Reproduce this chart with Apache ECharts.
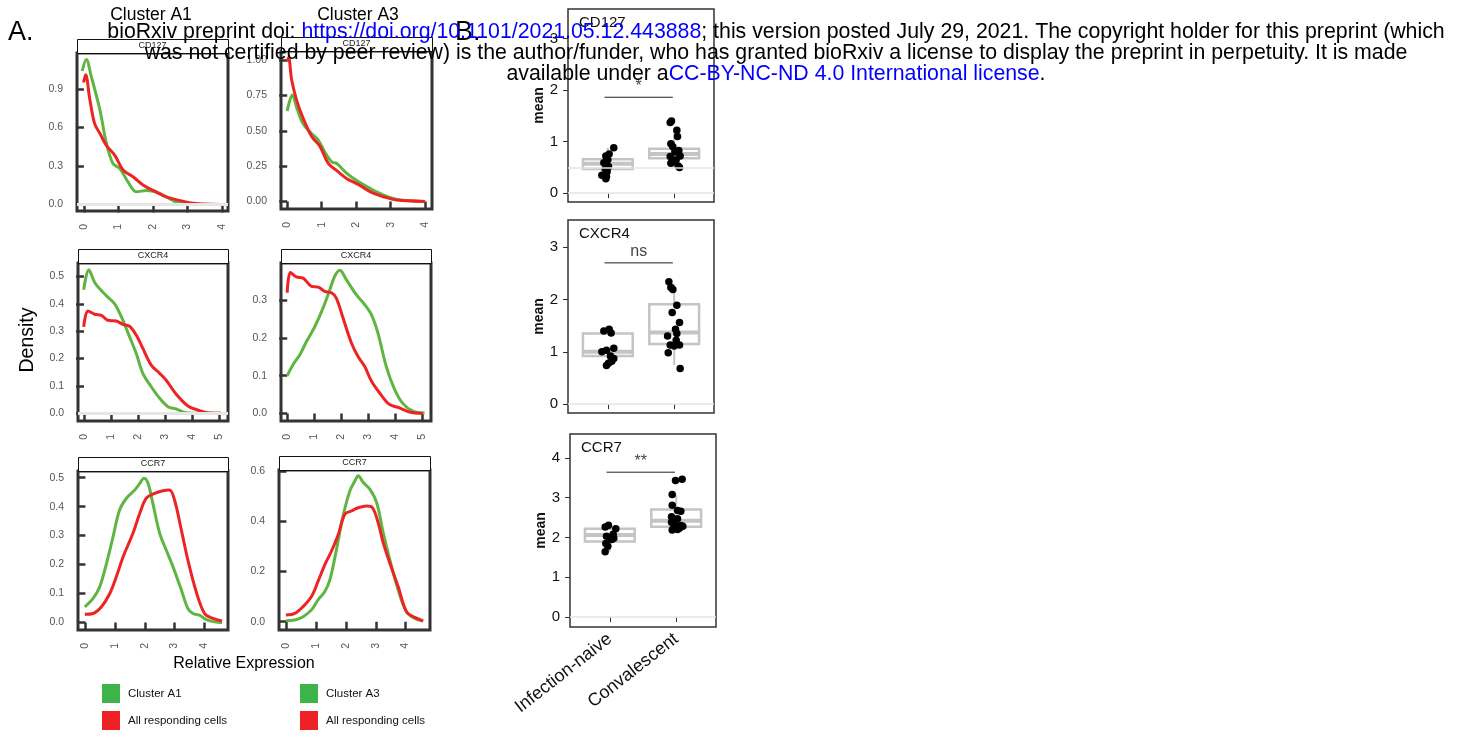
<!DOCTYPE html>
<html>
<head>
<meta charset="utf-8">
<script src="https://cdn.jsdelivr.net/npm/echarts@6/dist/echarts.min.js"></script>
<style>
  html, body { margin: 0; padding: 0; background: #fff; }
  #chart { width: 1470px; height: 738px; }
</style>
</head>
<body>
<div id="chart"></div>
<script>
// ---- data ----
const genes = ['CD127', 'CXCR4', 'CCR7'];
const clusters = ['Cluster A1', 'Cluster A3'];
const legendAll = 'All responding cells';
const groups = ['Infection-naive', 'Convalescent'];

// density curves [expression, density]
const a1Cd127Cluster = [[-0.05,1.04],[0.07,1.13],[0.21,1.0],[0.46,0.74],[0.65,0.48],[0.84,0.32],[1.04,0.28],[1.28,0.175],[1.52,0.1],[1.82,0.11],[2.1,0.097],[2.4,0.058],[2.69,0.018],[2.98,0.005],[3.95,0]];
const a1Cd127All = [[-0.01,0.95],[0.05,1.01],[0.17,0.82],[0.31,0.63],[0.46,0.555],[0.65,0.46],[0.89,0.385],[1.14,0.267],[1.43,0.215],[1.72,0.15],[2.1,0.097],[2.4,0.058],[2.79,0.031],[3.17,0.01],[3.95,0]];
const a3Cd127Cluster = [[0,0.64],[0.15,0.754],[0.27,0.67],[0.46,0.55],[0.71,0.48],[0.9,0.435],[1.09,0.35],[1.29,0.28],[1.43,0.27],[1.72,0.2],[2.06,0.14],[2.4,0.092],[2.79,0.045],[3.18,0.014],[4,0]];
const a3Cd127All = [[0,0.99],[0.04,1.02],[0.13,0.86],[0.27,0.72],[0.46,0.59],[0.71,0.46],[0.95,0.39],[1.19,0.27],[1.43,0.22],[1.72,0.163],[2.06,0.12],[2.4,0.069],[2.79,0.033],[3.18,0.009],[4,0]];
const a1Cxcr4Cluster = [[-0.01,0.451],[0.18,0.524],[0.39,0.479],[0.58,0.455],[0.82,0.43],[1.13,0.4],[1.38,0.352],[1.68,0.28],[1.93,0.218],[2.17,0.146],[2.48,0.097],[2.79,0.055],[3.1,0.024],[3.4,0.016],[3.77,0.002],[4.26,0],[5.06,0]];
const a1Cxcr4All = [[-0.01,0.316],[0.15,0.374],[0.39,0.362],[0.64,0.358],[0.88,0.34],[1.19,0.337],[1.44,0.325],[1.68,0.318],[1.93,0.285],[2.17,0.237],[2.48,0.176],[2.79,0.146],[3.03,0.121],[3.4,0.07],[3.83,0.027],[4.26,0.01],[4.63,0.001],[5.06,0]];
const a3Cxcr4Cluster = [[0,0.1],[0.22,0.13],[0.47,0.156],[0.71,0.19],[1.02,0.23],[1.33,0.28],[1.58,0.328],[1.76,0.364],[1.95,0.38],[2.19,0.355],[2.56,0.315],[2.87,0.289],[3.12,0.262],[3.36,0.214],[3.67,0.125],[3.98,0.064],[4.29,0.026],[4.66,0.006],[5.09,0.001]];
const a3Cxcr4All = [[0,0.32],[0.12,0.374],[0.34,0.362],[0.59,0.359],[0.9,0.337],[1.15,0.335],[1.39,0.324],[1.64,0.32],[1.82,0.306],[2.07,0.253],[2.38,0.187],[2.62,0.152],[2.87,0.125],[3.12,0.086],[3.42,0.055],[3.79,0.024],[4.16,0.015],[4.53,0.004],[5.02,0]];
const a1Ccr7Cluster = [[-0.02,0.054],[0.26,0.083],[0.48,0.123],[0.71,0.204],[0.93,0.296],[1.15,0.388],[1.38,0.429],[1.66,0.457],[1.83,0.48],[1.97,0.498],[2.11,0.48],[2.27,0.411],[2.5,0.308],[2.72,0.25],[2.95,0.192],[3.23,0.112],[3.45,0.048],[3.62,0.031],[3.84,0.025],[4.07,0.01],[4.35,0.002],[4.6,0]];
const a1Ccr7All = [[-0.02,0.028],[0.26,0.031],[0.54,0.054],[0.82,0.1],[1.04,0.158],[1.27,0.227],[1.6,0.308],[1.83,0.377],[2.05,0.429],[2.33,0.446],[2.61,0.455],[2.83,0.457],[3.0,0.423],[3.23,0.319],[3.45,0.215],[3.73,0.106],[4.01,0.031],[4.29,0.014],[4.6,0.005]];
const a3Ccr7Cluster = [[-0.02,0.004],[0.28,0.007],[0.56,0.02],[0.84,0.047],[1.06,0.087],[1.29,0.12],[1.46,0.167],[1.68,0.287],[1.9,0.42],[2.13,0.52],[2.3,0.56],[2.41,0.58],[2.58,0.553],[2.8,0.527],[3.03,0.473],[3.25,0.353],[3.47,0.247],[3.75,0.127],[4.03,0.04],[4.31,0.013],[4.59,0.003]];
const a3Ccr7All = [[-0.02,0.027],[0.28,0.033],[0.56,0.06],[0.84,0.1],[1.06,0.16],[1.29,0.227],[1.51,0.28],[1.74,0.347],[1.96,0.427],[2.18,0.44],[2.41,0.453],[2.69,0.46],[2.89,0.453],[3.08,0.393],[3.25,0.313],[3.47,0.233],[3.75,0.14],[4.03,0.04],[4.31,0.017],[4.59,0.003]];

// density axes: ranges and ticks
const densityXRange = [[-0.2,4.17],[-0.18,4.2],[-0.22,5.31],[-0.23,5.33],[-0.25,4.8],[-0.25,4.82]];
const densityYRange = [[-0.05,1.18],[-0.054,1.066],[-0.028,0.549],[-0.02,0.399],[-0.026,0.523],[-0.033,0.603]];
const densityXTicks = [[0,1,2,3,4],[0,1,2,3,4],[0,1,2,3,4,5],[0,1,2,3,4,5],[0,1,2,3,4],[0,1,2,3,4]];
const densityYTicks = [[0,0.3,0.6,0.9],[0,0.25,0.5,0.75,1],[0,0.1,0.2,0.3,0.4,0.5],[0,0.1,0.2,0.3],[0,0.1,0.2,0.3,0.4,0.5],[0,0.2,0.4,0.6]];
const densityYDecimals = [1,2,1,1,1,1];

// panel B: per-donor means [jittered group position, mean]
const cd127Naive = [[1.09,0.88],[1.02,0.76],[0.97,0.72],[1.0,0.65],[0.94,0.59],[1.01,0.52],[0.96,0.47],[0.99,0.42],[0.91,0.35],[0.98,0.33],[0.97,0.28]];
const cd127Conv = [[1.96,1.40],[1.94,1.37],[2.04,1.22],[2.05,1.1],[1.95,0.96],[1.98,0.9],[2.07,0.83],[2.01,0.8],[2.09,0.72],[1.94,0.71],[2.03,0.65],[1.97,0.6],[2.06,0.53],[1.95,0.58],[2.08,0.5]];
const cxcr4Naive = [[0.94,1.40],[1.02,1.43],[1.05,1.36],[0.91,1.0],[0.98,1.03],[1.09,1.07],[1.04,0.92],[1.09,0.87],[1.01,0.78],[0.98,0.74],[1.06,0.82]];
const cxcr4Conv = [[1.92,2.34],[1.95,2.23],[1.98,2.19],[2.04,1.89],[1.97,1.75],[2.08,1.56],[2.02,1.43],[2.04,1.35],[1.9,1.3],[2.03,1.22],[1.94,1.13],[2.0,1.11],[2.08,1.13],[1.91,0.98],[2.09,0.68]];
const ccr7Naive = [[0.93,2.26],[0.98,2.31],[1.09,2.22],[1.05,2.08],[0.95,2.03],[1.03,1.95],[0.94,1.85],[0.97,1.78],[0.93,1.64],[1.06,1.98],[1.01,1.99]];
const ccr7Conv = [[1.99,3.43],[2.09,3.46],[1.94,3.08],[1.94,2.81],[2.02,2.68],[2.07,2.66],[1.93,2.52],[2.02,2.47],[1.93,2.38],[1.98,2.32],[2.07,2.3],[2.1,2.28],[1.96,2.23],[2.05,2.23],[1.94,2.19],[2.02,2.2]];

// boxes [position, lower whisker, Q1, median, Q3, upper whisker]
const cd127Box = [[1,0.28,0.47,0.57,0.66,0.88],[2,0.5,0.68,0.76,0.86,1.22]];
const cxcr4Box = [[1,0.74,0.92,1.0,1.35,1.43],[2,0.75,1.15,1.37,1.91,2.3]];
const ccr7Box = [[1,1.64,1.9,2.06,2.22,2.31],[2,2.19,2.27,2.42,2.7,3.07]];

const meanYRange = [[-0.17,3.57],[-0.17,3.52],[-0.25,4.6]];
const meanYTicks = [[0,1,2,3],[0,1,2,3],[0,1,2,3,4]];
const refLines = [[0,0.5],[0],[0]];
const sigLabels = ['*', 'ns', '**'];
const sigHeights = [1.86, 2.7, 3.64];
const sigSpan = [0.95, 1.98];

// ---- layout ----
const GREEN = '#5fb541';
const RED = '#ee2323';
const FONT = 'Liberation Sans, Arial, Helvetica, sans-serif';

const densityGrids = [
  { left: 77, top: 53, width: 151, height: 158 },
  { left: 281, top: 51, width: 151, height: 158 },
  { left: 78, top: 263, width: 150, height: 158 },
  { left: 281, top: 263, width: 150, height: 158 },
  { left: 78, top: 471, width: 150, height: 159 },
  { left: 279, top: 470, width: 151, height: 160 }
];
const meanGrids = [
  { left: 568, top: 9, width: 146, height: 193 },
  { left: 568, top: 220, width: 146, height: 193 },
  { left: 570, top: 434, width: 146, height: 193 }
];

const densityPairs = [
  [a1Cd127Cluster, a1Cd127All], [a3Cd127Cluster, a3Cd127All],
  [a1Cxcr4Cluster, a1Cxcr4All], [a3Cxcr4Cluster, a3Cxcr4All],
  [a1Ccr7Cluster, a1Ccr7All], [a3Ccr7Cluster, a3Ccr7All]
];
const meanSets = [
  [cd127Naive, cd127Conv, cd127Box],
  [cxcr4Naive, cxcr4Conv, cxcr4Box],
  [ccr7Naive, ccr7Conv, ccr7Box]
];

const grid = [];
const xAxis = [];
const yAxis = [];
const series = [];
const graphic = [];

densityGrids.forEach((g, i) => {
  grid.push(Object.assign({ show: true, borderColor: '#333', borderWidth: 3, backgroundColor: '#fff' }, g));
  const dec = densityYDecimals[i];
  xAxis.push({
    gridIndex: i, type: 'value',
    min: densityXRange[i][0], max: densityXRange[i][1],
    axisLine: { show: false },
    splitLine: { show: false },
    axisTick: { show: true, length: 8, customValues: densityXTicks[i], lineStyle: { color: '#333', width: 2.5 } },
    axisLabel: { customValues: densityXTicks[i], rotate: 90, margin: 13, color: '#555', fontSize: 10.5, fontFamily: FONT }
  });
  yAxis.push({
    gridIndex: i, type: 'value',
    min: densityYRange[i][0], max: densityYRange[i][1],
    axisLine: { show: false },
    splitLine: { show: false },
    axisTick: { show: true, length: 8, customValues: densityYTicks[i], lineStyle: { color: '#333', width: 2.5 } },
    axisLabel: { customValues: densityYTicks[i], margin: 14, color: '#555', fontSize: 10.5, fontFamily: FONT,
      formatter: (v) => Number(v).toFixed(dec) }
  });
  const pair = densityPairs[i];
  const baseline = (i === 0 || i === 2) ? {
    silent: true, symbol: 'none', label: { show: false },
    lineStyle: { color: '#e6e6e6', width: 3, type: 'solid' },
    data: [{ yAxis: 0 }]
  } : undefined;
  series.push({
    type: 'line', name: clusters[i % 2], xAxisIndex: i, yAxisIndex: i, data: pair[0],
    smooth: 0.35, showSymbol: false, lineStyle: { color: GREEN, width: 3 }, z: 3,
    markLine: baseline
  });
  series.push({
    type: 'line', name: legendAll, xAxisIndex: i, yAxisIndex: i, data: pair[1],
    smooth: 0.35, showSymbol: false, lineStyle: { color: RED, width: 3 }, z: 4
  });
  // facet strip
  graphic.push({
    type: 'rect', left: g.left, top: g.top - 14,
    shape: { width: g.width, height: 14 },
    style: { fill: '#fff', stroke: '#111', lineWidth: 1 }, z: 5
  });
  graphic.push({
    type: 'text', x: g.left + g.width / 2, y: g.top - 7,
    style: { text: genes[Math.floor(i / 2)], textAlign: 'center', textVerticalAlign: 'middle', fill: '#222', font: '9px ' + FONT }, z: 6
  });
});

function renderBox(params, api) {
  const x = api.value(0);
  const lo = api.coord([x, api.value(1)]);
  const q1 = api.coord([x, api.value(2)]);
  const med = api.coord([x, api.value(3)]);
  const q3 = api.coord([x, api.value(4)]);
  const hi = api.coord([x, api.value(5)]);
  const half = api.size([0.75, 0])[0] / 2;
  const gray = '#c4c4c4';
  return {
    type: 'group',
    children: [
      { type: 'line', shape: { x1: lo[0], y1: lo[1], x2: q1[0], y2: q1[1] }, style: { stroke: gray, lineWidth: 2 } },
      { type: 'line', shape: { x1: q3[0], y1: q3[1], x2: hi[0], y2: hi[1] }, style: { stroke: gray, lineWidth: 2 } },
      { type: 'rect', shape: { x: q1[0] - half, y: q3[1], width: half * 2, height: q1[1] - q3[1] }, style: { fill: '#fff', stroke: gray, lineWidth: 2.5 } },
      { type: 'line', shape: { x1: med[0] - half, y1: med[1], x2: med[0] + half, y2: med[1] }, style: { stroke: gray, lineWidth: 4 } }
    ]
  };
}

meanGrids.forEach((g, k) => {
  const gi = densityGrids.length + k;
  grid.push(Object.assign({ show: true, borderColor: '#333', borderWidth: 1.5, backgroundColor: '#fff' }, g));
  const isLast = k === meanGrids.length - 1;
  xAxis.push({
    gridIndex: gi, type: 'value', min: 0.4, max: 2.6,
    axisLine: { show: false }, splitLine: { show: false },
    axisTick: { show: true, length: 5, customValues: [1, 2], lineStyle: { color: '#333', width: 1 } },
    axisLabel: {
      show: isLast, customValues: [1, 2], rotate: 38, margin: 10, color: '#111', fontSize: 18, fontFamily: FONT,
      formatter: (v) => groups[Math.round(v) - 1]
    }
  });
  yAxis.push({
    gridIndex: gi, type: 'value', min: meanYRange[k][0], max: meanYRange[k][1],
    name: 'mean', nameLocation: 'middle', nameGap: 17, nameRotate: 90,
    nameTextStyle: { fontSize: 14, fontWeight: 'bold', color: '#111', fontFamily: FONT },
    axisLine: { show: false }, splitLine: { show: false },
    axisTick: { show: true, length: 5, customValues: meanYTicks[k], lineStyle: { color: '#333', width: 1 } },
    axisLabel: { customValues: meanYTicks[k], margin: 10, color: '#111', fontSize: 15, fontFamily: FONT }
  });
  const set = meanSets[k];
  series.push({
    type: 'custom', xAxisIndex: gi, yAxisIndex: gi, data: set[2], renderItem: renderBox,
    encode: { x: 0, y: [1, 2, 3, 4, 5] }, z: 2, silent: true,
    markLine: {
      silent: true, symbol: 'none', label: { show: false },
      lineStyle: { color: '#e4e4e4', width: 1.5, type: 'solid' },
      data: refLines[k].map((v) => ({ yAxis: v }))
    }
  });
  series.push({
    type: 'scatter', xAxisIndex: gi, yAxisIndex: gi, data: set[0].concat(set[1]),
    symbolSize: 7.5, itemStyle: { color: '#000', opacity: 1 }, z: 4
  });
  series.push({
    type: 'line', xAxisIndex: gi, yAxisIndex: gi,
    data: [[sigSpan[0], sigHeights[k]], [sigSpan[1], sigHeights[k]]],
    showSymbol: false, lineStyle: { color: '#222', width: 1 }, z: 3
  });
  series.push({
    type: 'scatter', xAxisIndex: gi, yAxisIndex: gi,
    data: [[(sigSpan[0] + sigSpan[1]) / 2, sigHeights[k]]],
    symbolSize: 0,
    label: { show: true, position: 'top', distance: 3, formatter: sigLabels[k], color: '#111', fontSize: 16, fontFamily: FONT },
    z: 3
  });
  graphic.push({
    type: 'text', x: g.left + 11, y: g.top + 14,
    style: { text: genes[k], textVerticalAlign: 'middle', fill: '#111', font: '15px ' + FONT }, z: 6
  });
});

// headings, axis titles, legends
graphic.push(
  { type: 'text', x: 8, y: 33, style: { text: 'A.', textVerticalAlign: 'middle', fill: '#000', font: '27px ' + FONT } },
  { type: 'text', x: 455, y: 33, style: { text: 'B.', textVerticalAlign: 'middle', fill: '#000', font: '27px ' + FONT } },
  { type: 'text', x: 151, y: 15, style: { text: clusters[0], textAlign: 'center', textVerticalAlign: 'middle', fill: '#000', font: '17.5px ' + FONT } },
  { type: 'text', x: 358, y: 15, style: { text: clusters[1], textAlign: 'center', textVerticalAlign: 'middle', fill: '#000', font: '17.5px ' + FONT } },
  { type: 'text', x: 28, y: 340, rotation: Math.PI / 2, style: { text: 'Density', textAlign: 'center', textVerticalAlign: 'middle', fill: '#000', font: '19.5px ' + FONT } },
  { type: 'text', x: 244, y: 664, style: { text: 'Relative Expression', textAlign: 'center', textVerticalAlign: 'middle', fill: '#000', font: '16px ' + FONT } }
);
[102, 300].forEach((lx, j) => {
  [[clusters[j], '#3db449', 684], [legendAll, '#ee2127', 711]].forEach(([label, color, ly]) => {
    graphic.push({ type: 'rect', left: lx, top: ly, shape: { width: 18, height: 19 }, style: { fill: color } });
    graphic.push({ type: 'text', x: lx + 26, y: ly + 9.5, style: { text: label, textVerticalAlign: 'middle', fill: '#111', font: '11.5px ' + FONT } });
  });
});

// bioRxiv notice
const wmFont = '21.3px ' + FONT;
const wmRich = { u: { fill: '#0000ff', font: wmFont } };
graphic.push(
  { type: 'text', x: 776, y: 32, z: 20, style: { text: 'bioRxiv preprint doi: {u|https://doi.org/10.1101/2021.05.12.443888}; this version posted July 29, 2021. The copyright holder for this preprint (which', rich: wmRich, textAlign: 'center', textVerticalAlign: 'middle', fill: '#000', font: wmFont } },
  { type: 'text', x: 776, y: 53, z: 20, style: { text: 'was not certified by peer review) is the author/funder, who has granted bioRxiv a license to display the preprint in perpetuity. It is made', textAlign: 'center', textVerticalAlign: 'middle', fill: '#000', font: wmFont } },
  { type: 'text', x: 776, y: 74, z: 20, style: { text: 'available under a{u|CC-BY-NC-ND 4.0 International license}.', rich: wmRich, textAlign: 'center', textVerticalAlign: 'middle', fill: '#000', font: wmFont } }
);

const chart = echarts.init(document.getElementById('chart'), null, { renderer: 'canvas' });
chart.setOption({
  animation: false,
  backgroundColor: '#fff',
  textStyle: { fontFamily: FONT },
  grid, xAxis, yAxis, series, graphic
});
</script>
</body>
</html>
